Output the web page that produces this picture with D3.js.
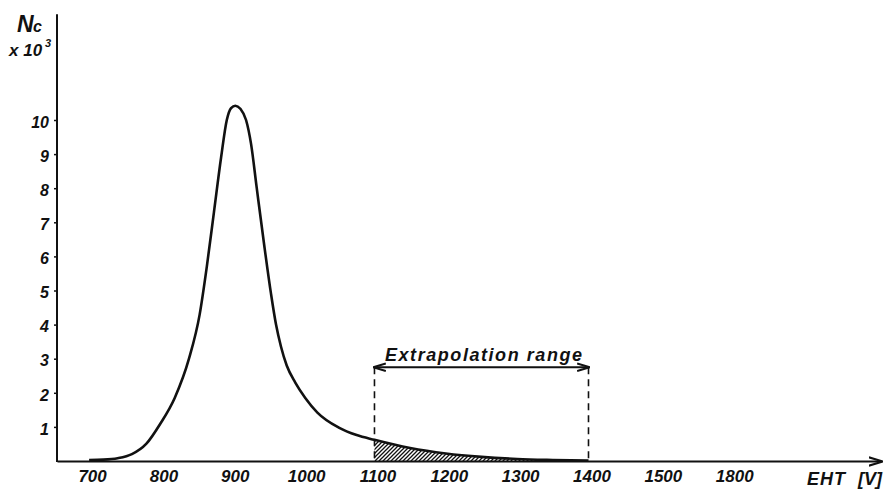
<!DOCTYPE html>
<html>
<head>
<meta charset="utf-8">
<script src="https://cdn.jsdelivr.net/npm/d3@7"></script>
<style>
  body { margin: 0; background: #fff; }
  svg text { font-family: "Liberation Sans", Arial, sans-serif; font-style: italic; font-weight: bold; fill: #111; }
</style>
</head>
<body>
<div id="chart"></div>
<script>
// EHT voltage [V] and count rate Nc (x10^3)
var eht = [700, 720, 740, 760, 780, 800, 820, 840, 855, 865, 875, 885, 893, 899, 905, 912, 920, 927, 935, 945, 955, 962, 969, 977, 989, 1003, 1020, 1050, 1075, 1100, 1150, 1200, 1250, 1300, 1350, 1400];
var counts = [0.03, 0.04, 0.08, 0.2, 0.5, 1.1, 1.85, 3.0, 4.3, 5.7, 7.3, 8.9, 10.0, 10.35, 10.42, 10.33, 10.0, 9.3, 8.0, 6.4, 4.9, 4.0, 3.35, 2.8, 2.3, 1.85, 1.42, 0.98, 0.76, 0.62, 0.38, 0.22, 0.12, 0.06, 0.03, 0.01];

var xTickValues = [700, 800, 900, 1000, 1100, 1200, 1300, 1400, 1500, 1600];
var xTickLabels = ["700", "800", "900", "1000", "1100", "1200", "1300", "1400", "1500", "1800"];
var yTickValues = [1, 2, 3, 4, 5, 6, 7, 8, 9, 10];

var rangeStart = 1100, rangeEnd = 1400, rangeLevel = 2.75;

var width = 893, height = 502;

var svg = d3.select("#chart")
  .append("svg")
  .attr("width", width)
  .attr("height", height);

// Scales
var xScale = d3.scaleLinear().domain([655, 1810]).range([57, 881]);
var yScale = d3.scaleLinear().domain([0, 10]).range([461, 120]);

// Hatch pattern
var defs = svg.append("defs");
var pat = defs.append("pattern")
  .attr("id", "hatch")
  .attr("patternUnits", "userSpaceOnUse")
  .attr("width", 4).attr("height", 4);
pat.append("path")
  .attr("d", "M-1,1 l2,-2 M0,4 l4,-4 M3,5 l2,-2")
  .attr("stroke", "#111").attr("stroke-width", 1.3);

defs.append("marker")
  .attr("id", "arr")
  .attr("viewBox", "0 0 10 10")
  .attr("refX", 9).attr("refY", 5)
  .attr("markerWidth", 7).attr("markerHeight", 7)
  .attr("orient", "auto-start-reverse")
  .append("path")
  .attr("d", "M0,2 L10,5 L0,8")
  .attr("fill", "none").attr("stroke", "#111").attr("stroke-width", 1.5);

var data = eht.map(function(v, i) { return {x: v, y: counts[i]}; });

// Shaded area in extrapolation range
var inRange = data.filter(function(d) { return d.x >= rangeStart && d.x <= rangeEnd; });
svg.append("path")
  .datum(inRange)
  .attr("fill", "url(#hatch)")
  .attr("d", d3.area()
    .curve(d3.curveMonotoneX)
    .x(function(d) { return xScale(d.x); })
    .y0(yScale(0))
    .y1(function(d) { return yScale(d.y); }));

// X axis
var xAxis = svg.append("g")
  .attr("transform", "translate(0," + yScale(0) + ")")
  .call(d3.axisBottom(xScale)
    .tickValues(xTickValues)
    .tickFormat(function(d, i) { return xTickLabels[i]; })
    .tickSize(0)
    .tickSizeOuter(0)
    .tickPadding(9));
xAxis.select(".domain").attr("stroke", "#111").attr("stroke-width", 2).attr("marker-end", "url(#arr)");
xAxis.selectAll("text").attr("font-size", 17).attr("dx", 3).style("font-family", "'Liberation Sans', sans-serif");

// Y axis
var yAxis = svg.append("g")
  .attr("transform", "translate(" + xScale(655) + ",0)")
  .call(d3.axisLeft(yScale)
    .tickValues(yTickValues)
    .tickSize(3)
    .tickSizeOuter(0)
    .tickPadding(5));
yAxis.select(".domain").remove();
yAxis.selectAll("line").attr("stroke", "#111").attr("stroke-width", 1.5);
yAxis.selectAll("text").attr("font-size", 16).attr("dy", "0.45em").style("font-family", "'Liberation Sans', sans-serif");
yAxis.append("line")
  .attr("x1", 0).attr("x2", 0)
  .attr("y1", yScale(0) + 1).attr("y2", yScale(13.1))
  .attr("stroke", "#111").attr("stroke-width", 2);

// Curve
svg.append("path")
  .datum(data)
  .attr("fill", "none")
  .attr("stroke", "#111")
  .attr("stroke-width", 2.6)
  .attr("stroke-linejoin", "round")
  .attr("d", d3.line()
    .curve(d3.curveMonotoneX)
    .x(function(d) { return xScale(d.x); })
    .y(function(d) { return yScale(d.y); }));

// Extrapolation range bracket
[rangeStart, rangeEnd].forEach(function(v) {
  svg.append("line")
    .attr("x1", xScale(v)).attr("x2", xScale(v))
    .attr("y1", yScale(rangeLevel)).attr("y2", yScale(0))
    .attr("stroke", "#111").attr("stroke-width", 1.6)
    .attr("stroke-dasharray", "7,5");
});
svg.append("line")
  .attr("x1", xScale(rangeStart)).attr("x2", xScale(rangeEnd))
  .attr("y1", yScale(rangeLevel)).attr("y2", yScale(rangeLevel))
  .attr("stroke", "#111").attr("stroke-width", 1.8)
  .attr("marker-start", "url(#arr)")
  .attr("marker-end", "url(#arr)");
svg.append("text")
  .attr("x", 385).attr("y", yScale(rangeLevel) - 6)
  .attr("font-size", 18)
  .attr("textLength", 197)
  .attr("lengthAdjust", "spacing")
  .text("Extrapolation range");

// Axis titles
svg.append("text").attr("x", 17).attr("y", 32).attr("font-size", 23).text("N");
svg.append("text").attr("x", 33).attr("y", 32).attr("font-size", 16).text("c");
svg.append("text").attr("x", 9).attr("y", 56).attr("font-size", 17).text("x 10");
svg.append("text").attr("x", 45).attr("y", 47).attr("font-size", 11).text("3");
svg.append("text").attr("x", 807).attr("y", 485).attr("font-size", 18).attr("textLength", 38).text("EHT");
svg.append("text").attr("x", 858).attr("y", 485).attr("font-size", 18).text("[V]");
</script>
</body>
</html>
